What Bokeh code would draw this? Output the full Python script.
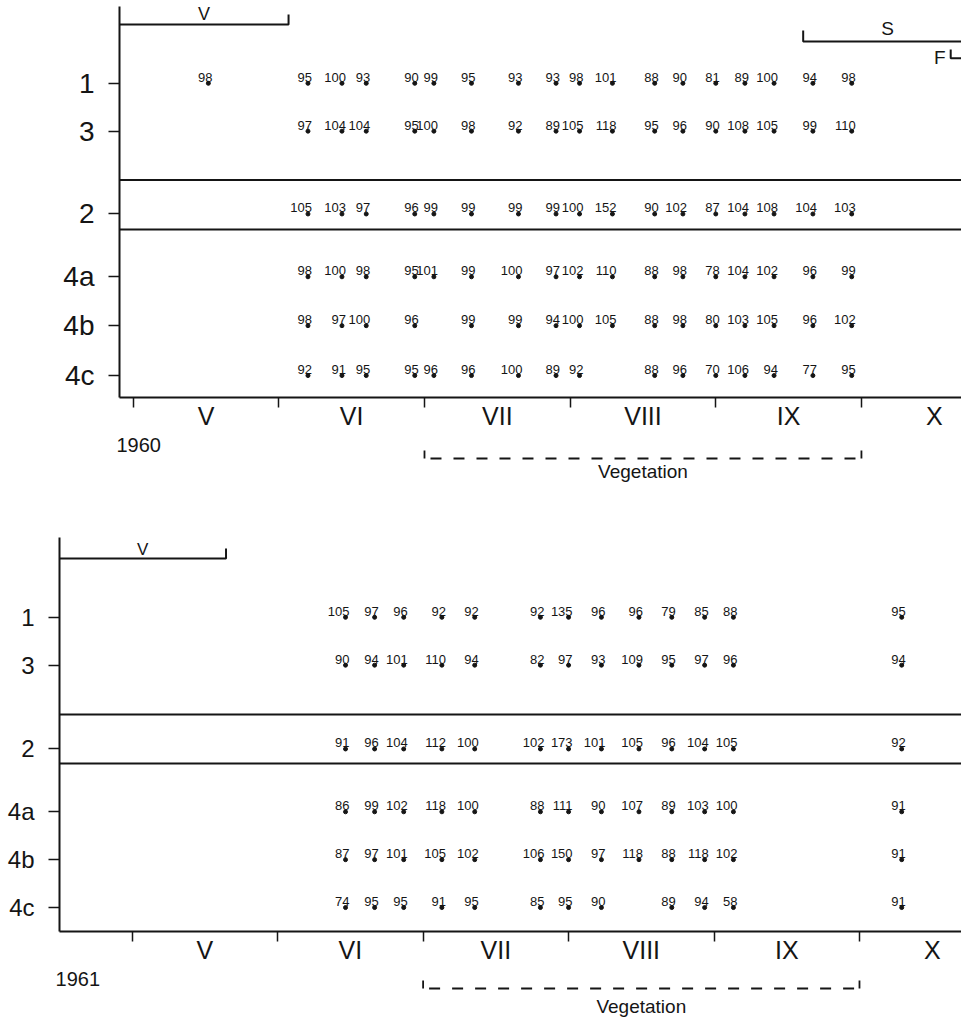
import calendar
from bokeh.plotting import figure
from bokeh.models import Range1d, FixedTicker, Span, ColumnDataSource
from bokeh.core.properties import value
from bokeh.embed import file_html
from bokeh.resources import INLINE

# ---------------- data ----------------
ROWS = ["1", "3", "2", "4a", "4b", "4c"]
MONTHS = ["V", "VI", "VII", "VIII", "IX", "X"]
MONTH_NUMBERS = [5, 6, 7, 8, 9, 10]

DATES_1960 = ["05-17", "06-07", "06-14", "06-19", "06-29", "07-03", "07-11", "07-21", "07-29",
              "08-03", "08-10", "08-19", "08-25", "09-01", "09-07", "09-13", "09-21", "09-29"]
R1_1960 = [98, 95, 100, 93, 90, 99, 95, 93, 93, 98, 101, 88, 90, 81, 89, 100, 94, 98]
R3_1960 = [None, 97, 104, 104, 95, 100, 98, 92, 89, 105, 118, 95, 96, 90, 108, 105, 99, 110]
R2_1960 = [None, 105, 103, 97, 96, 99, 99, 99, 99, 100, 152, 90, 102, 87, 104, 108, 104, 103]
R4A_1960 = [None, 98, 100, 98, 95, 101, 99, 100, 97, 102, 110, 88, 98, 78, 104, 102, 96, 99]
R4B_1960 = [None, 98, 97, 100, 96, None, 99, 99, 94, 100, 105, 88, 98, 80, 103, 105, 96, 102]
R4C_1960 = [None, 92, 91, 95, 95, 96, 96, 100, 89, 92, None, 88, 96, 70, 106, 94, 77, 95]

DATES_1961 = ["06-15", "06-21", "06-27", "07-05", "07-12", "07-26", "08-01", "08-08",
              "08-16", "08-23", "08-30", "09-05", "10-10"]
R1_1961 = [105, 97, 96, 92, 92, 92, 135, 96, 96, 79, 85, 88, 95]
R3_1961 = [90, 94, 101, 110, 94, 82, 97, 93, 109, 95, 97, 96, 94]
R2_1961 = [91, 96, 104, 112, 100, 102, 173, 101, 105, 96, 104, 105, 92]
R4A_1961 = [86, 99, 102, 118, 100, 88, 111, 90, 107, 89, 103, 100, 91]
R4B_1961 = [87, 97, 101, 105, 102, 106, 150, 97, 118, 88, 118, 102, 91]
R4C_1961 = [74, 95, 95, 91, 95, 85, 95, 90, None, 89, 94, 58, 91]

# phase brackets (end of V, start of S, start of F)
V_END_1960 = "06-03"
S_START_1960 = "09-19"
F_START_1960 = "10-20"
V_END_1961 = "05-21"
VEGETATION = (7, 10)  # from start of VII to end of IX

# ---------------- layout / style ----------------
FONT = "Liberation Sans"
INK = "#151515"
W = 961
AXIS_PANEL = 34


def mpos(year, mmdd):
    m, d = map(int, mmdd.split("-"))
    return m + (d - 1) / calendar.monthrange(year, m)[1]


def label(p, x, y, txt, size, align="center", x_offset=0):
    p.text([x], [y], text=[txt], text_font=value(FONT), text_font_size=size,
           text_align=align, text_baseline="middle", x_offset=x_offset, text_color=INK)


def main_fig(year, x_start, x_end, y_top, y_bottom, border_top, border_left, row_pos, band,
             row_font, row_standoff, dates, rows):
    height = border_top + (y_bottom - y_top) + AXIS_PANEL
    p = figure(width=W, height=height, x_range=Range1d(x_start, x_end),
               y_range=Range1d(y_bottom, y_top), output_backend="svg", toolbar_location=None,
               min_border_left=border_left, min_border_right=0, min_border_top=border_top,
               min_border_bottom=AXIS_PANEL, outline_line_color=None)
    p.grid.visible = False
    # y axis
    ya = p.yaxis[0]
    ya.ticker = FixedTicker(ticks=row_pos)
    ya.major_label_overrides = {pos: name for pos, name in zip(row_pos, ROWS)}
    ya.major_tick_out = 11
    ya.major_tick_in = 0
    ya.major_tick_line_width = 1.5
    ya.major_tick_line_color = INK
    ya.minor_tick_line_color = None
    ya.axis_line_width = 2
    ya.axis_line_color = INK
    ya.major_label_standoff = row_standoff
    ya.major_label_text_font = FONT
    ya.major_label_text_font_size = row_font
    ya.major_label_text_color = INK
    # x axis
    xa = p.xaxis[0]
    xa.ticker = FixedTicker(ticks=[m + 0.5 for m in MONTH_NUMBERS], minor_ticks=MONTH_NUMBERS)
    xa.major_label_overrides = {m + 0.5: lab for m, lab in zip(MONTH_NUMBERS, MONTHS)}
    xa.major_tick_out = 0
    xa.major_tick_in = 0
    xa.major_tick_line_color = None
    xa.minor_tick_out = 10
    xa.minor_tick_in = 0
    xa.minor_tick_line_width = 1.5
    xa.minor_tick_line_color = INK
    xa.axis_line_width = 2
    xa.axis_line_color = INK
    xa.major_label_standoff = -6
    xa.major_label_text_font = FONT
    xa.major_label_text_font_size = "25px"
    xa.major_label_text_color = INK
    # band lines around row 2
    for loc in band:
        p.add_layout(Span(location=loc, dimension="width", line_width=2, line_color=INK))
    # data
    xs, ys, labs = [], [], []
    for pos, vals in zip(row_pos, rows):
        for d, v in zip(dates, vals):
            if v is None:
                continue
            xs.append(mpos(year, d))
            ys.append(pos)
            labs.append(str(v))
    src = ColumnDataSource(dict(x=xs, y=ys, label=labs))
    p.scatter("x", "y", source=src, size=4, color=INK)
    p.text("x", "y", text="label", source=src, text_font=value(FONT), text_font_size="13px",
           text_align="right", text_baseline="middle", x_offset=4, y_offset=-6,
           text_color=INK)
    return p


def strip_fig(x_start, x_end, height, year_label, year_x, year_y, br_top, br_y, veg_y):
    p = figure(width=W, height=height, x_range=Range1d(x_start, x_end),
               y_range=Range1d(height, 0), output_backend="svg", toolbar_location=None,
               min_border=0, outline_line_color=None, x_axis_type=None, y_axis_type=None)
    p.grid.visible = False
    label(p, year_x, year_y, year_label, "20px", align="left")
    v0, v1 = VEGETATION
    p.segment(x0=[v0, v1], y0=[br_top, br_top], x1=[v0, v1], y1=[br_y, br_y],
              line_width=1.8, line_color=INK)
    p.line([v0, v1], [br_y, br_y], line_width=1.8, line_color=INK, line_dash="11 12",
           line_dash_offset=-6)
    label(p, (v0 + v1) / 2, veg_y, "Vegetation", "19px")
    return p


# ---- 1960 panel ----
TOP_PXM = 145.65
TOP_LEFT = 119
top_x0 = 4.906
top_x1 = top_x0 + (W - TOP_LEFT) / TOP_PXM
rows60 = [R1_1960, R3_1960, R2_1960, R4A_1960, R4B_1960, R4C_1960]
p1 = main_fig(1960, top_x0, top_x1, 6, 398, 6, TOP_LEFT, [83, 131, 214, 277, 326, 376],
              [180, 229.5], "28px", 14, DATES_1960, rows60)
# V bracket
ve = mpos(1960, V_END_1960)
p1.line([top_x0, ve, ve], [24, 24, 14], line_width=2, line_color=INK)
label(p1, (top_x0 + ve) / 2, 14, "V", "18px")
# S bracket
ss = mpos(1960, S_START_1960)
p1.line([ss, ss, top_x1 + 1], [30, 41, 41], line_width=2, line_color=INK)
label(p1, 10.18, 28, "S", "19px")
# F bracket
fs = mpos(1960, F_START_1960)
p1.line([fs, fs, top_x1 + 1], [49, 58, 58], line_width=2, line_color=INK)
label(p1, fs, 57, "F", "19px", align="right", x_offset=-5)

p2 = strip_fig(top_x0 - TOP_LEFT / TOP_PXM, top_x1, 105, "1960", 4.885, 12.5, 18, 26, 39)

# ---- 1961 panel ----
BOT_PXM = 145.46
BOT_LEFT = 59
bot_x0 = 4.5003
bot_x1 = bot_x0 + (W - BOT_LEFT) / BOT_PXM
rows61 = [R1_1961, R3_1961, R2_1961, R4A_1961, R4B_1961, R4C_1961]
p3 = main_fig(1961, bot_x0, bot_x1, 537, 932, 0, BOT_LEFT, [617, 665, 749, 812, 860, 908],
              [714.5, 763.5], "24px", 14, DATES_1961, rows61)
ve2 = mpos(1961, V_END_1961)
p3.line([bot_x0, ve2, ve2], [558, 558, 548], line_width=2, line_color=INK)
label(p3, (bot_x0 + ve2) / 2, 549, "V", "17px")

p4 = strip_fig(bot_x0 - BOT_LEFT / BOT_PXM, bot_x1, 56, "1961", 4.473, 12, 14, 22, 40)

open("out.html", "w").write(file_html([p1, p2, p3, p4], INLINE))
